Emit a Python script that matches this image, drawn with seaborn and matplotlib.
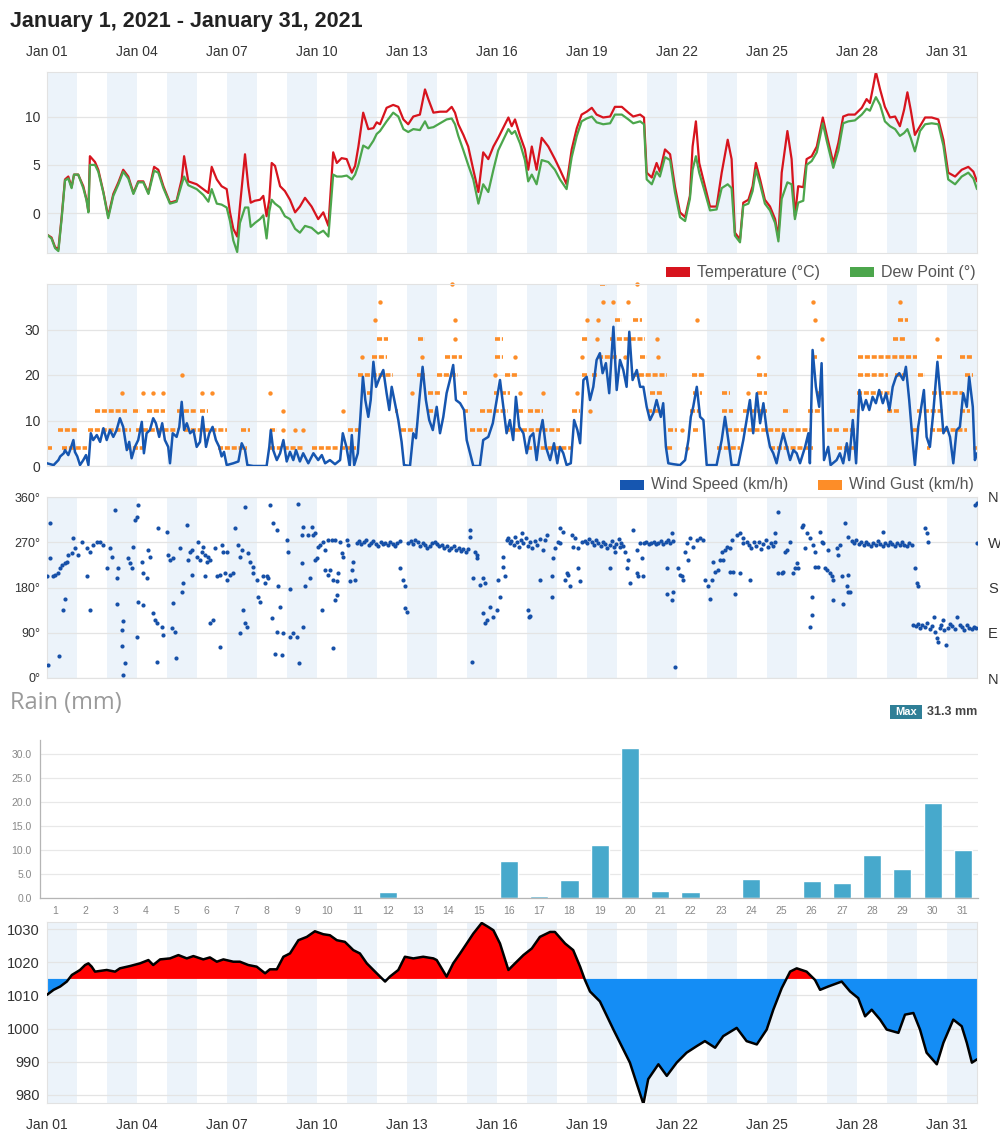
import matplotlib
matplotlib.use("Agg")
import matplotlib.pyplot as plt
from matplotlib.patches import Rectangle
import seaborn as sns

# ---- data (day = days since Jan 1 00:00) ----
# (day, temperature degC, dew point degC)
temp_pts = [
    (0.00, -2.2, -2.2), (0.15, -2.5, -2.6), (0.27, -3.5, -3.6), (0.38, -3.7, -3.9), (0.49, -0.3, -0.5),
    (0.60, 3.5, 3.4), (0.71, 3.8, 3.6), (0.82, 2.7, 2.6), (0.90, 4.0, 4.0), (1.04, 4.0, 4.0),
    (1.21, 2.8, 2.6), (1.32, 1.4, 1.3), (1.38, 0.2, 0.1), (1.43, 5.9, 5.0), (1.60, 5.3, 5.0),
    (1.71, 4.5, 4.3), (1.88, 2.2, 2.1), (2.04, -0.3, -0.5), (2.21, 2.0, 1.8), (2.38, 3.2, 3.0),
    (2.54, 4.5, 4.3), (2.71, 3.8, 3.6), (2.88, 2.1, 2.0), (3.04, 3.3, 3.2), (3.21, 3.3, 3.2),
    (3.38, 2.1, 2.0), (3.57, 4.8, 4.4), (3.71, 4.5, 4.2), (3.88, 2.8, 2.6), (4.10, 1.1, 1.0),
    (4.32, 1.3, 1.2), (4.49, 3.5, 3.0), (4.57, 5.9, 3.8), (4.71, 3.3, 2.9), (4.99, 3.0, 2.5),
    (5.21, 2.5, 1.9), (5.38, 2.1, 1.2), (5.49, 4.8, 2.5), (5.66, 3.5, 1.0), (5.82, 2.8, 0.9),
    (5.99, 2.5, 0.6), (6.10, 0.1, -0.8), (6.21, -1.6, -2.8), (6.34, -2.4, -4.0), (6.43, 0.7, -1.0),
    (6.60, 6.1, 0.6), (6.71, 2.8, 0.6), (6.79, 1.1, -1.4), (6.93, 1.3, -1.0), (7.10, 1.4, -0.6),
    (7.21, 1.8, -0.2), (7.32, -0.3, -2.6), (7.41, 1.4, 0.2), (7.49, 5.2, 1.4), (7.60, 4.9, 1.0),
    (7.77, 2.8, 0.6), (7.93, 2.3, -0.3), (8.10, 1.4, -0.6), (8.27, 0.1, -1.6), (8.43, 0.7, -2.0),
    (8.60, 1.6, -1.3), (8.82, 0.7, -1.5), (9.04, -0.6, -2.1), (9.21, 0.1, -1.8), (9.38, -1.3, -2.4),
    (9.54, 6.3, 4.0), (9.66, 5.2, 3.8), (9.82, 5.7, 3.8), (9.99, 5.6, 3.9), (10.16, 4.2, 3.5),
    (10.27, 4.9, 4.0), (10.38, 6.9, 5.0), (10.54, 10.4, 7.0), (10.71, 8.7, 6.7), (10.88, 8.8, 7.5),
    (10.99, 9.4, 8.2), (11.10, 9.2, 8.5), (11.32, 10.9, 9.5), (11.54, 11.2, 10.4), (11.71, 11.0, 10.0),
    (11.88, 9.7, 8.7), (12.04, 9.2, 8.4), (12.21, 10.0, 8.7), (12.43, 10.2, 8.6), (12.60, 12.8, 9.5),
    (12.71, 11.8, 8.8), (12.88, 10.4, 8.9), (13.10, 10.5, 9.3), (13.32, 10.5, 9.7), (13.49, 11.0, 9.8),
    (13.60, 10.4, 9.2), (13.71, 9.2, 8.0), (13.88, 8.1, 6.5), (14.04, 6.9, 5.0), (14.21, 4.5, 3.5),
    (14.38, 2.2, 1.0), (14.54, 6.3, 3.0), (14.71, 5.6, 2.2), (14.88, 6.9, 4.5), (15.04, 7.8, 6.5),
    (15.38, 9.9, 8.7), (15.49, 9.0, 8.2), (15.60, 9.7, 8.5), (15.77, 8.0, 7.2), (15.93, 6.6, 5.5),
    (16.04, 4.5, 3.3), (16.16, 6.9, 4.0), (16.32, 4.5, 3.0), (16.49, 7.8, 5.5), (16.71, 6.9, 5.3),
    (16.93, 5.6, 4.5), (17.10, 4.5, 3.5), (17.32, 3.0, 2.5), (17.49, 6.6, 5.8), (17.66, 8.8, 8.0),
    (17.82, 10.2, 9.5), (17.99, 10.5, 9.8), (18.16, 10.9, 10.0), (18.32, 10.2, 9.4), (18.54, 9.9, 9.2),
    (18.77, 10.0, 9.3), (18.93, 11.0, 10.2), (19.16, 11.0, 10.2), (19.38, 10.4, 9.7), (19.54, 10.0, 9.3),
    (19.77, 10.2, 9.5), (19.90, 9.9, 9.2), (19.99, 4.2, 3.5), (20.16, 3.7, 3.0), (20.32, 5.2, 4.3),
    (20.43, 4.3, 3.8), (20.60, 6.6, 5.8), (20.77, 6.1, 5.5), (20.93, 2.8, 2.2), (21.10, 0.1, -0.4),
    (21.27, -0.4, -0.8), (21.43, 1.8, 1.5), (21.52, 6.9, 4.5), (21.63, 9.5, 5.9), (21.74, 5.2, 4.2),
    (21.90, 3.2, 2.5), (22.10, 0.7, 0.3), (22.32, 0.7, 0.4), (22.49, 4.2, 2.6), (22.69, 7.6, 3.0),
    (22.82, 5.6, 2.6), (22.93, -2.0, -2.3), (23.10, -2.7, -3.0), (23.21, 1.1, 0.8), (23.38, 1.4, 1.0),
    (23.52, 2.8, 2.3), (23.63, 5.2, 4.5), (23.77, 3.5, 3.0), (23.93, 1.4, 1.0), (24.10, 0.7, 0.3),
    (24.27, -0.6, -1.0), (24.38, -2.5, -2.9), (24.49, 4.2, 1.5), (24.68, 8.5, 3.2), (24.82, 5.6, 3.0),
    (24.93, -0.3, -0.6), (25.04, 2.8, 1.1), (25.21, 2.7, 1.3), (25.32, 5.6, 5.0), (25.49, 5.9, 5.4),
    (25.66, 6.9, 6.3), (25.86, 9.9, 9.3), (25.99, 8.1, 7.5), (26.21, 5.2, 4.7), (26.38, 7.3, 6.5),
    (26.54, 10.0, 9.3), (26.71, 10.2, 9.5), (26.93, 10.2, 9.6), (27.16, 10.9, 10.2), (27.32, 11.8, 10.8),
    (27.43, 11.4, 10.6), (27.54, 13.1, 11.4), (27.63, 14.6, 12.0), (27.77, 12.8, 11.2), (27.93, 11.0, 9.5),
    (28.10, 9.9, 9.0), (28.27, 10.0, 8.7), (28.43, 9.0, 8.0), (28.57, 10.7, 8.3), (28.68, 12.5, 8.7),
    (28.79, 10.7, 7.8), (28.93, 8.1, 6.4), (29.10, 9.0, 8.5), (29.27, 9.9, 9.2), (29.49, 9.9, 9.3),
    (29.71, 9.7, 9.2), (29.88, 7.6, 7.0), (30.04, 4.2, 3.5), (30.27, 3.8, 3.0), (30.49, 4.5, 3.8),
    (30.71, 4.8, 4.2), (30.88, 4.3, 3.6), (31.00, 3.3, 2.5),
]

# (day, wind speed km/h)
wind_pts = [
    (0.00, 0.6), (0.22, 0.2), (0.38, 1.3), (0.44, 2.1), (0.56, 2.8), (0.60, 3.5), (0.71, 2.4), (0.77, 3.5),
    (0.88, 5.7), (0.93, 3.1), (1.01, 2.1), (1.10, 0.2), (1.21, 1.3), (1.30, 2.4), (1.38, 0.2), (1.46, 7.2),
    (1.54, 5.7), (1.66, 6.8), (1.77, 5.3), (1.88, 8.3), (1.99, 5.7), (2.10, 7.9), (2.21, 6.4), (2.32, 7.9),
    (2.43, 10.5), (2.54, 8.6), (2.66, 3.5), (2.74, 5.3), (2.82, 1.7), (2.93, 4.2), (3.04, 5.7), (3.16, 9.7),
    (3.23, 2.8), (3.32, 7.2), (3.43, 7.9), (3.54, 10.5), (3.63, 9.4), (3.74, 6.4), (3.84, 9.4), (3.93, 5.7),
    (4.04, 4.2), (4.10, 0.6), (4.19, 7.2), (4.32, 6.4), (4.41, 8.6), (4.49, 14.1), (4.57, 7.9), (4.66, 9.4),
    (4.77, 7.2), (4.88, 7.9), (4.99, 4.2), (5.10, 5.3), (5.19, 10.8), (5.30, 4.2), (5.41, 7.2), (5.52, 8.6),
    (5.63, 5.7), (5.74, 4.2), (5.82, 2.1), (5.90, 3.1), (5.99, 0.2), (6.21, 0.6), (6.38, 1.0), (6.49, 5.0),
    (6.60, 3.5), (6.68, 0.2), (6.88, 0.0), (7.32, 0.0), (7.41, 4.2), (7.46, 7.9), (7.54, 3.5), (7.66, 1.3),
    (7.77, 2.8), (7.88, 5.7), (7.99, 1.0), (8.10, 3.1), (8.21, 1.3), (8.30, 3.5), (8.43, 1.0), (8.54, 2.8),
    (8.71, 0.6), (8.88, 2.8), (9.04, 1.3), (9.16, 2.4), (9.27, 0.6), (9.43, 1.3), (9.60, 0.4), (9.77, 1.3),
    (9.86, 7.2), (9.98, 4.2), (10.09, 0.0), (10.16, 6.8), (10.24, 0.2), (10.36, 2.8), (10.44, 10.1),
    (10.53, 19.6), (10.61, 14.5), (10.71, 10.8), (10.79, 14.5), (10.88, 22.9), (10.97, 17.4), (11.08, 19.3),
    (11.21, 21.1), (11.32, 16.0), (11.41, 12.3), (11.49, 17.4), (11.60, 13.8), (11.71, 10.1), (11.82, 5.3),
    (11.90, 0.2), (12.10, 0.0), (12.21, 7.2), (12.30, 6.1), (12.41, 14.5), (12.52, 21.8), (12.63, 14.5),
    (12.74, 10.1), (12.86, 7.9), (12.99, 13.0), (13.10, 7.2), (13.21, 10.8), (13.32, 16.0), (13.43, 18.9),
    (13.54, 22.2), (13.63, 14.5), (13.77, 13.8), (13.90, 12.3), (13.99, 5.7), (14.10, 2.8), (14.21, 0.0),
    (14.43, 0.0), (14.54, 5.7), (14.71, 6.4), (14.86, 9.4), (14.99, 14.5), (15.10, 18.9), (15.21, 13.0),
    (15.32, 7.2), (15.43, 10.1), (15.54, 5.7), (15.63, 15.2), (15.74, 8.6), (15.88, 7.2), (15.99, 2.8),
    (16.10, 6.4), (16.21, 7.2), (16.32, 1.3), (16.43, 7.2), (16.52, 10.1), (16.63, 4.2), (16.77, 1.3),
    (16.90, 5.0), (17.01, 0.6), (17.10, 4.2), (17.21, 2.8), (17.32, 0.2), (17.46, 0.6), (17.57, 10.1),
    (17.68, 7.9), (17.77, 5.0), (17.88, 18.9), (17.99, 19.6), (18.10, 14.5), (18.21, 17.4), (18.32, 23.3),
    (18.43, 24.8), (18.52, 20.4), (18.63, 22.6), (18.74, 16.0), (18.88, 30.6), (18.99, 16.7), (19.10, 23.3),
    (19.21, 21.1), (19.32, 17.4), (19.41, 29.5), (19.52, 18.9), (19.66, 21.1), (19.77, 17.4), (19.88, 17.4),
    (19.99, 13.0), (20.10, 10.1), (20.21, 11.6), (20.32, 14.5), (20.46, 10.8), (20.54, 13.8), (20.63, 4.2),
    (20.71, 0.6), (20.88, 0.4), (21.10, 0.2), (21.27, 1.3), (21.38, 5.7), (21.46, 10.8), (21.54, 13.0),
    (21.66, 17.4), (21.77, 10.8), (21.88, 10.1), (21.99, 0.2), (22.32, 0.2), (22.49, 5.7), (22.60, 10.8),
    (22.71, 5.7), (22.82, 0.2), (23.04, 0.2), (23.21, 5.7), (23.32, 10.1), (23.43, 14.5), (23.54, 7.2),
    (23.66, 16.0), (23.77, 9.4), (23.88, 13.8), (23.99, 7.9), (24.10, 4.2), (24.21, 2.8), (24.32, 0.6),
    (24.43, 4.2), (24.54, 7.2), (24.66, 4.2), (24.77, 1.3), (24.88, 3.5), (24.99, 2.8), (25.10, 0.6),
    (25.27, 4.2), (25.38, 7.2), (25.43, 0.6), (25.52, 25.5), (25.63, 17.4), (25.74, 13.0), (25.82, 22.6),
    (25.90, 1.3), (26.04, 4.2), (26.12, 0.2), (26.32, 1.3), (26.43, 2.8), (26.54, 0.6), (26.66, 5.0),
    (26.74, 1.3), (26.86, 10.1), (26.97, 0.6), (27.08, 16.7), (27.19, 12.3), (27.30, 14.5), (27.41, 12.3),
    (27.52, 15.2), (27.63, 13.8), (27.74, 16.7), (27.86, 13.8), (27.97, 16.0), (28.08, 12.3), (28.19, 17.4),
    (28.30, 19.6), (28.41, 20.4), (28.54, 18.9), (28.63, 21.8), (28.74, 14.5), (28.86, 5.0), (28.93, 0.2),
    (29.04, 8.6), (29.16, 13.8), (29.23, 16.7), (29.32, 6.4), (29.43, 4.2), (29.54, 11.6), (29.68, 22.9),
    (29.79, 14.5), (29.88, 7.2), (29.99, 8.6), (30.10, 6.4), (30.21, 0.6), (30.32, 7.9), (30.43, 8.6),
    (30.54, 16.0), (30.66, 13.0), (30.74, 19.6), (30.86, 13.0), (30.93, 1.3), (31.00, 2.8),
]

# wind gust: single readings (day, km/h) and runs of equal readings (start day, end day, km/h)
gust_dots = [
    (2.49, 16), (3.21, 16), (3.54, 16), (3.88, 16), (5.16, 16), (5.49, 16), (7.43, 16), (12.15, 16),
    (15.77, 16), (16.54, 16), (17.66, 16), (23.38, 16),
    (4.49, 20), (14.93, 20),
    (7.88, 8), (8.27, 8), (8.54, 8), (21.16, 8),
    (7.88, 12), (9.88, 12), (18.10, 12),
    (21.32, 4),
    (10.50, 24), (12.49, 24), (15.60, 24), (17.82, 24), (19.27, 24), (20.38, 24), (23.71, 24),
    (13.60, 28), (18.32, 28), (20.32, 28), (25.82, 28), (29.66, 28),
    (10.93, 32), (13.60, 32), (17.99, 32), (18.38, 32), (21.66, 32), (25.60, 32),
    (11.10, 36), (18.54, 36), (18.88, 36), (19.38, 36), (25.54, 36), (28.43, 36),
    (13.49, 40), (19.66, 40),
]
gust_runs = [
    (0.00, 0.15, 4), (0.49, 1.32, 4), (2.62, 3.20, 4), (5.71, 6.66, 4), (7.44, 8.54, 4), (8.82, 9.71, 4),
    (9.77, 10.30, 4), (15.99, 17.54, 4), (20.66, 20.88, 4), (22.32, 23.10, 4), (24.10, 25.54, 4),
    (26.32, 26.93, 4), (29.32, 29.43, 4), (30.88, 31.00, 4),
    (0.38, 0.99, 8), (1.38, 2.80, 8), (2.95, 4.40, 8), (4.55, 5.99, 8), (6.48, 6.76, 8), (7.44, 7.66, 8),
    (10.03, 10.48, 8), (11.80, 12.30, 8), (14.10, 14.66, 8), (15.32, 15.43, 8), (15.60, 17.10, 8),
    (20.71, 20.99, 8), (21.54, 21.77, 8), (22.66, 25.43, 8), (25.99, 26.43, 8), (26.54, 26.99, 8),
    (28.88, 29.10, 8), (29.43, 30.66, 8),
    (1.60, 2.66, 12), (2.88, 3.10, 12), (3.32, 3.93, 12), (4.32, 4.99, 12), (5.10, 5.38, 12),
    (11.60, 11.71, 12), (12.71, 12.93, 12), (13.88, 14.10, 12), (14.43, 15.38, 12), (15.71, 15.93, 12),
    (16.04, 16.54, 12), (17.49, 17.77, 12), (19.99, 20.60, 12), (21.43, 21.77, 12), (22.49, 22.88, 12),
    (23.21, 23.99, 12), (24.54, 24.77, 12), (25.38, 25.77, 12), (26.77, 27.04, 12), (27.99, 28.43, 12),
    (28.99, 29.88, 12), (30.43, 30.77, 12),
    (10.66, 10.88, 16), (11.43, 11.54, 16), (12.71, 13.10, 16), (13.88, 13.99, 16), (14.90, 15.43, 16),
    (20.10, 20.54, 16), (21.54, 21.82, 16), (22.49, 22.77, 16), (23.66, 23.99, 16), (25.71, 25.82, 16),
    (27.00, 28.21, 16), (29.49, 30.54, 16),
    (10.38, 11.54, 20), (12.32, 12.60, 20), (12.99, 13.71, 20), (15.27, 15.66, 20), (17.82, 17.99, 20),
    (18.16, 18.32, 20), (19.49, 20.66, 20), (21.49, 21.93, 20), (23.66, 23.99, 20), (27.04, 28.04, 20),
    (28.27, 28.66, 20), (29.04, 29.27, 20), (30.60, 30.88, 20),
    (10.82, 11.32, 24), (13.27, 13.82, 24), (14.93, 15.20, 24), (18.38, 18.99, 24), (19.77, 19.99, 24),
    (25.49, 25.66, 24), (27.04, 28.99, 24), (29.66, 29.82, 24), (30.43, 30.82, 24),
    (11.00, 11.38, 28), (12.38, 12.60, 28), (14.93, 15.20, 28), (17.82, 18.04, 28), (18.77, 19.93, 28),
    (28.21, 28.60, 28),
    (18.93, 19.16, 32), (19.54, 19.82, 32), (28.38, 28.71, 32),
    (18.43, 18.66, 40),
]

# (day, wind direction in degrees)
dir_pts = [
    (0.04, 25), (0.10, 308), (0.00, 202), (0.10, 238), (0.21, 202), (0.27, 205), (0.38, 208), (0.41, 44),
    (0.43, 218), (0.49, 225), (0.54, 135), (0.60, 158), (0.60, 228), (0.66, 231), (0.71, 245), (0.82, 248),
    (0.88, 278), (0.93, 258), (1.04, 245), (1.16, 271), (1.32, 202), (1.32, 258), (1.43, 135), (1.43, 251),
    (1.54, 265), (1.66, 271), (1.77, 271), (1.88, 265), (1.99, 218), (2.10, 258), (2.16, 241), (2.27, 334),
    (2.32, 198), (2.38, 218), (2.32, 147), (2.49, 95), (2.49, 64), (2.54, 113), (2.60, 30), (2.54, 6),
    (2.71, 238), (2.77, 228), (2.82, 218), (2.88, 261), (2.93, 314), (2.99, 321), (3.04, 344), (2.99, 82),
    (3.04, 152), (3.16, 231), (3.21, 145), (3.21, 208), (3.32, 198), (3.38, 255), (3.43, 241), (3.54, 129),
    (3.60, 115), (3.66, 109), (3.82, 102), (3.88, 86), (3.66, 32), (3.71, 298), (3.99, 291), (4.04, 245),
    (4.10, 235), (4.21, 238), (4.16, 99), (4.21, 149), (4.27, 92), (4.30, 39), (4.43, 258), (4.49, 172),
    (4.54, 188), (4.66, 304), (4.71, 235), (4.77, 251), (4.82, 205), (4.82, 255), (4.99, 241), (5.04, 271),
    (5.10, 235), (5.16, 251), (5.21, 261), (5.27, 245), (5.32, 231), (5.27, 202), (5.38, 241), (5.43, 235),
    (5.43, 109), (5.54, 115), (5.60, 258), (5.77, 62), (5.66, 202), (5.77, 205), (5.82, 265), (5.88, 251),
    (5.99, 251), (5.93, 208), (5.99, 195), (6.10, 205), (6.21, 208), (6.27, 299), (6.38, 265), (6.43, 241),
    (6.49, 255), (6.43, 89), (6.54, 135), (6.60, 109), (6.66, 102), (6.60, 341), (6.71, 248), (6.77, 231),
    (6.88, 221), (6.88, 208), (6.99, 195), (7.04, 162), (7.10, 152), (7.21, 202), (7.27, 188), (7.32, 202),
    (7.38, 198), (7.43, 344), (7.49, 119), (7.54, 308), (7.60, 47), (7.66, 294), (7.66, 92), (7.71, 182),
    (7.77, 142), (7.82, 45), (7.88, 89), (7.99, 274), (8.04, 251), (8.10, 178), (8.10, 82), (8.21, 89),
    (8.32, 82), (8.38, 346), (8.41, 29), (8.49, 228), (8.49, 284), (8.54, 102), (8.54, 301), (8.60, 182),
    (8.71, 284), (8.77, 198), (8.82, 301), (8.88, 284), (8.93, 288), (8.93, 235), (8.99, 238), (9.04, 261),
    (9.10, 265), (9.16, 135), (9.21, 271), (9.27, 255), (9.27, 215), (9.38, 205), (9.43, 215), (9.54, 195),
    (9.66, 192), (9.38, 274), (9.49, 274), (9.60, 274), (9.54, 59), (9.60, 155), (9.66, 165), (9.71, 208),
    (9.77, 271), (9.82, 248), (9.88, 241), (9.99, 274), (10.04, 265), (10.10, 192), (10.16, 215),
    (10.21, 231), (10.27, 195),
    (10.32, 268), (10.40, 272), (10.48, 266), (10.56, 270), (10.64, 274), (10.72, 265), (10.80, 269),
    (10.88, 272), (10.96, 267), (11.04, 263), (11.12, 270), (11.20, 266), (11.28, 268), (11.36, 264),
    (11.44, 271), (11.52, 267), (11.60, 262), (11.68, 269), (11.75, 273),
    (11.77, 218), (11.88, 195), (11.93, 182), (11.93, 139), (11.99, 132),
    (12.04, 268), (12.12, 272), (12.20, 266), (12.28, 275), (12.36, 270), (12.44, 262), (12.52, 268),
    (12.60, 264), (12.68, 258), (12.76, 262), (12.84, 268), (12.92, 270), (13.00, 266), (13.08, 262),
    (13.16, 265), (13.24, 258), (13.32, 262), (13.40, 255), (13.48, 258), (13.56, 262), (13.64, 254),
    (13.72, 258), (13.80, 252), (13.88, 256), (13.96, 250), (14.04, 256),
    (14.10, 294), (14.10, 281), (14.16, 32), (14.21, 198), (14.27, 251), (14.32, 245), (14.32, 238),
    (14.43, 185), (14.54, 198), (14.60, 188), (14.54, 129), (14.60, 109), (14.66, 115), (14.77, 142),
    (14.88, 122), (14.99, 135), (15.04, 195),
    (15.10, 162), (15.21, 221), (15.27, 202), (15.21, 241), (15.32, 274), (15.38, 278), (15.43, 268),
    (15.48, 272), (15.55, 265), (15.60, 280), (15.66, 270), (15.72, 260), (15.80, 275), (15.88, 268),
    (15.95, 278), (16.02, 262), (16.10, 270), (16.18, 258), (16.26, 272), (16.34, 265), (16.42, 276),
    (15.82, 288), (16.04, 135), (16.05, 122), (16.10, 123),
    (16.43, 195), (16.54, 255), (16.60, 274), (16.66, 284), (16.82, 202), (16.82, 162), (16.88, 238),
    (16.93, 258), (17.04, 271), (17.10, 268), (17.10, 298), (17.21, 291), (17.27, 195), (17.32, 208),
    (17.38, 205), (17.43, 182), (17.49, 284), (17.54, 261), (17.60, 278), (17.71, 218), (17.77, 192),
    (17.71, 258), (17.82, 271),
    (17.93, 272), (18.00, 268), (18.08, 276), (18.15, 270), (18.22, 264), (18.30, 274), (18.38, 268),
    (18.45, 262), (18.52, 270), (18.60, 266), (18.68, 258), (18.75, 264), (18.82, 272), (18.90, 260),
    (18.98, 266), (19.05, 276), (19.12, 268), (19.20, 262),
    (18.77, 218), (18.93, 251), (19.10, 261), (19.27, 251), (19.32, 218), (19.38, 235), (19.43, 188),
    (19.54, 294), (19.66, 255), (19.66, 208), (19.71, 202), (19.82, 238), (19.88, 202), (19.77, 268),
    (19.90, 268), (19.98, 270), (20.06, 266), (20.14, 268), (20.22, 271), (20.30, 267), (20.38, 269),
    (20.46, 272), (20.54, 266), (20.62, 270), (20.70, 275), (20.78, 268), (20.86, 272),
    (20.66, 218), (20.66, 168), (20.82, 155), (20.88, 172), (20.82, 288), (20.93, 21),
    (21.04, 218), (21.10, 205), (21.16, 202), (21.21, 195), (21.27, 251), (21.32, 268), (21.38, 235),
    (21.43, 278), (21.54, 261), (21.66, 274), (21.77, 278), (21.88, 274), (21.93, 195), (22.04, 182),
    (22.10, 158), (22.16, 195), (22.21, 231), (22.27, 211), (22.38, 215), (22.43, 235), (22.49, 251),
    (22.54, 235), (22.60, 255), (22.66, 261), (22.77, 258), (22.82, 274), (22.77, 211), (22.88, 211),
    (22.93, 168), (23.10, 208), (23.00, 284), (23.10, 288), (23.21, 268), (23.21, 278), (23.32, 271),
    (23.43, 195),
    (23.40, 265), (23.48, 258), (23.56, 270), (23.64, 262), (23.72, 271), (23.80, 256), (23.88, 266),
    (23.96, 274), (24.04, 260), (24.12, 268), (24.20, 262), (24.28, 270),
    (24.27, 288), (24.38, 331), (24.38, 208), (24.49, 208), (24.54, 211), (24.60, 251), (24.66, 255),
    (24.77, 271), (24.88, 208), (24.93, 218), (24.99, 228), (25.04, 218), (25.16, 301), (25.21, 304),
    (25.27, 258), (25.32, 288), (25.43, 278), (25.54, 265), (25.49, 162), (25.49, 125), (25.43, 102),
    (25.60, 251), (25.60, 221), (25.71, 221), (25.77, 291), (25.82, 271), (25.88, 268), (25.93, 218),
    (25.99, 215), (26.04, 255), (26.10, 208), (26.16, 202), (26.21, 195), (26.21, 155), (26.32, 258),
    (26.38, 245), (26.43, 264), (26.49, 202), (26.54, 148), (26.60, 308), (26.66, 182), (26.71, 172),
    (26.77, 172), (26.71, 205), (26.71, 281),
    (26.82, 272), (26.90, 268), (26.98, 275), (27.06, 266), (27.14, 270), (27.22, 264), (27.30, 271),
    (27.38, 266), (27.46, 262), (27.54, 269), (27.62, 265), (27.70, 272), (27.78, 266), (27.86, 262),
    (27.94, 268), (28.02, 264), (28.10, 270), (28.18, 266), (28.26, 262), (28.34, 268), (28.42, 264),
    (28.50, 270), (28.58, 265), (28.66, 262), (28.74, 268), (28.82, 264), (27.88, 291),
    (28.93, 218), (28.99, 188), (29.04, 182), (29.27, 298), (29.32, 288), (29.38, 271),
    (28.88, 105), (28.95, 104), (29.02, 108), (29.10, 100), (29.18, 106), (29.26, 102), (29.34, 109),
    (29.42, 98), (29.50, 104), (29.56, 122), (29.60, 92), (29.65, 80), (29.70, 72), (29.75, 100),
    (29.80, 106), (29.86, 115), (29.90, 95), (29.96, 66), (30.02, 100), (30.10, 108), (30.18, 104),
    (30.26, 98), (30.34, 122), (30.42, 105), (30.50, 101), (30.58, 96), (30.66, 106), (30.74, 100),
    (30.82, 98), (30.90, 102), (30.98, 99),
    (30.93, 344), (31.00, 348), (31.00, 268),
]

rain_days = list(range(1, 32))
rain_mm = [0.1, 0.3, 0, 0, 0, 0, 0.3, 0.2, 0, 0, 0, 1.3, 0, 0, 0, 7.7, 0.4, 3.8, 11.0, 31.3,
           1.4, 1.2, 0, 3.9, 0, 3.5, 3.2, 9.0, 6.0, 19.8, 10.0]

# (day, sea level pressure hPa)
pres_pts = [
    (0.00, 1010.2), (0.22, 1011.7), (0.44, 1012.7), (0.66, 1014.2), (0.83, 1016.2), (1.10, 1017.7),
    (1.27, 1019.2), (1.38, 1019.7), (1.49, 1018.7), (1.60, 1017.2), (1.99, 1017.7), (2.27, 1017.2),
    (2.43, 1018.2), (2.77, 1018.9), (3.10, 1019.7), (3.38, 1020.7), (3.54, 1019.2), (3.77, 1020.9),
    (4.10, 1021.2), (4.38, 1022.2), (4.66, 1021.2), (4.88, 1021.9), (5.21, 1020.9), (5.43, 1021.5),
    (5.66, 1020.2), (5.88, 1020.9), (6.21, 1020.2), (6.43, 1020.2), (6.71, 1019.2), (6.99, 1018.7),
    (7.27, 1016.7), (7.43, 1017.9), (7.66, 1017.9), (7.88, 1021.7), (8.10, 1022.7), (8.38, 1026.7),
    (8.66, 1027.7), (8.93, 1029.4), (9.21, 1028.5), (9.43, 1028.2), (9.66, 1026.7), (9.93, 1026.2),
    (10.21, 1023.7), (10.43, 1022.7), (10.66, 1019.7), (10.99, 1016.7), (11.27, 1014.2), (11.43, 1015.7),
    (11.71, 1017.7), (11.93, 1021.7), (12.21, 1021.2), (12.54, 1021.7), (12.88, 1021.2), (12.99, 1020.7),
    (13.32, 1015.7), (13.54, 1019.7), (13.77, 1022.7), (13.99, 1025.7), (14.21, 1028.7), (14.49, 1031.9),
    (14.71, 1030.7), (14.88, 1029.7), (15.10, 1025.7), (15.38, 1017.7), (15.60, 1019.7), (15.88, 1022.2),
    (16.16, 1024.2), (16.43, 1027.7), (16.77, 1029.2), (16.93, 1029.2), (17.27, 1025.7), (17.54, 1023.7),
    (17.77, 1018.7), (17.93, 1014.7), (18.10, 1011.2), (18.43, 1008.2), (18.88, 999.7), (19.43, 989.7),
    (19.88, 977.2), (20.04, 984.7), (20.38, 989.2), (20.66, 985.7), (20.99, 989.7), (21.32, 992.7),
    (21.66, 994.7), (21.93, 996.2), (22.27, 994.2), (22.54, 997.7), (22.99, 1000.2), (23.32, 996.2),
    (23.66, 995.2), (23.99, 999.7), (24.21, 1005.7), (24.49, 1012.2), (24.77, 1017.2), (24.99, 1018.2),
    (25.32, 1017.2), (25.60, 1014.7), (25.77, 1011.7), (26.04, 1012.7), (26.49, 1014.2), (26.77, 1011.2),
    (27.04, 1009.2), (27.27, 1003.7), (27.49, 1005.7), (27.77, 1002.7), (27.99, 999.7), (28.38, 998.7),
    (28.60, 1004.2), (28.88, 1004.7), (29.10, 999.7), (29.32, 992.7), (29.66, 989.2), (29.88, 995.7),
    (30.21, 1002.7), (30.49, 1000.7), (30.66, 995.7), (30.83, 989.7), (31.00, 990.7),
]
pres_base = 1015

tick_days = [0, 3, 6, 9, 12, 15, 18, 21, 24, 27, 30]
tick_labels = ["Jan 01", "Jan 04", "Jan 07", "Jan 10", "Jan 13", "Jan 16",
               "Jan 19", "Jan 22", "Jan 25", "Jan 28", "Jan 31"]

SHADE = "#ecf3fa"
GRID = "#e4e4e4"
TXT = "#333333"

sns.set_theme(style="white")
plt.rcParams["font.family"] = ["Liberation Sans", "DejaVu Sans"]

W, H = 1000, 1145
fig = plt.figure(figsize=(W / 100, H / 100), dpi=100)


def box(x0, y0, x1, y1):
    # pixel box (top-left origin) -> figure rect
    return [x0 / W, 1 - y1 / H, (x1 - x0) / W, (y1 - y0) / H]


def time_axis(ax, ylim, yticks, ylabels):
    ax.set_xlim(0, 31)
    ax.set_ylim(*ylim)
    for d in range(0, 31, 2):
        ax.axvspan(d, d + 1, color=SHADE, lw=0, zorder=0)
    ax.set_yticks(yticks)
    ax.set_yticklabels(ylabels)
    ax.grid(axis="y", color=GRID, lw=0.9)
    ax.set_axisbelow(True)
    ax.set_xticks(tick_days)
    ax.set_xticklabels([])
    ax.set_xlabel("")
    ax.set_ylabel("")
    ax.tick_params(length=0, labelsize=10, colors=TXT, pad=5)
    for s in ax.spines.values():
        s.set_color("#e2e2e2")
        s.set_linewidth(0.8)


def legend_item(x, y, color, label):
    fig.add_artist(Rectangle((x / W, 1 - (y + 5) / H), 24 / W, 10 / H,
                             transform=fig.transFigure, color=color, lw=0))
    fig.text((x + 31) / W, 1 - y / H, label, ha="left", va="center", fontsize=11.5, color="#555555")


fig.text(10 / W, 1 - 21 / H, "January 1, 2021 - January 31, 2021", fontsize=15.5,
         fontweight="bold", color="#222222", ha="left", va="center")

# ---- temperature / dew point ----
ax_t = fig.add_axes(box(47, 72, 977, 253))
t_day = [p[0] for p in temp_pts]
sns.lineplot(x=t_day, y=[p[1] for p in temp_pts], ax=ax_t, color="#d7141e", lw=1.6,
             estimator=None, sort=False)
sns.lineplot(x=t_day, y=[p[2] for p in temp_pts], ax=ax_t, color="#4ca64c", lw=1.6,
             estimator=None, sort=False)
time_axis(ax_t, (-4.1, 14.6), [0, 5, 10], ["0", "5", "10"])
ax_t.xaxis.tick_top()
ax_t.set_xticklabels(tick_labels)
ax_t.tick_params(axis="x", pad=9)
legend_item(666, 272, "#d7141e", "Temperature (°C)")
legend_item(850, 272, "#4ca64c", "Dew Point (°)")

# ---- wind speed / gust ----
ax_w = fig.add_axes(box(47, 284, 977, 466))
ax_w.hlines([r[2] for r in gust_runs], [r[0] for r in gust_runs], [r[1] for r in gust_runs],
            colors="#fd8d28", lw=2.6, linestyles=(0, (1.4, 0.5)), zorder=2)
sns.scatterplot(x=[g[0] for g in gust_dots], y=[g[1] for g in gust_dots], ax=ax_w,
                color="#fd8d28", s=10, linewidth=0, zorder=2, clip_on=False)
sns.lineplot(x=[p[0] for p in wind_pts], y=[p[1] for p in wind_pts], ax=ax_w,
             color="#1656b0", lw=1.8, estimator=None, sort=False, zorder=3)
time_axis(ax_w, (0, 40), [0, 10, 20, 30], ["0", "10", "20", "30"])
legend_item(620, 485, "#1656b0", "Wind Speed (km/h)")
legend_item(818, 485, "#fd8d28", "Wind Gust (km/h)")

# ---- wind direction ----
ax_d = fig.add_axes(box(47, 497, 977, 678))
sns.scatterplot(x=[p[0] for p in dir_pts], y=[p[1] for p in dir_pts], ax=ax_d,
                color="#1650a8", s=9, linewidth=0, zorder=3)
time_axis(ax_d, (0, 360), [0, 90, 180, 270, 360], ["0°", "90°", "180°", "270°", "360°"])
ax_d.tick_params(axis="y", labelsize=9)
ax_d2 = ax_d.twinx()
ax_d2.set_ylim(0, 360)
ax_d2.set_yticks([0, 90, 180, 270, 360])
ax_d2.set_yticklabels(["N", "E", "S", "W", "N"])
ax_d2.tick_params(length=0, labelsize=10.5, colors=TXT, pad=8)
for s in ax_d2.spines.values():
    s.set_visible(False)

# ---- rain ----
fig.text(10 / W, 1 - 703 / H, "Rain (mm)", fontsize=17, color="#9a9a9a",
         family=["Open Sans", "DejaVu Sans"], ha="left", va="center")
fig.add_artist(Rectangle((890 / W, 1 - 719 / H), 32 / W, 14 / H, transform=fig.transFigure,
                         color="#2f7f97", lw=0))
fig.text(906 / W, 1 - 712 / H, "Max", fontsize=8, color="white", fontweight="bold",
         ha="center", va="center")
fig.text(927 / W, 1 - 712 / H, "31.3 mm", fontsize=9, color="#444444", fontweight="bold",
         ha="left", va="center")

ax_r = fig.add_axes(box(40, 740, 978, 898))
sns.barplot(x=rain_days, y=rain_mm, ax=ax_r, color="#47a9cc", saturation=1, width=0.6, zorder=2)
ax_r.set_xlim(-0.5, 30.5)
ax_r.set_ylim(0, 33)
ax_r.set_yticks([0, 5, 10, 15, 20, 25, 30])
ax_r.set_yticklabels(["0.0", "5.0", "10.0", "15.0", "20.0", "25.0", "30.0"])
ax_r.grid(axis="y", color="#e8e8e8", lw=0.9)
ax_r.set_axisbelow(True)
ax_r.set_xlabel("")
ax_r.set_ylabel("")
ax_r.tick_params(labelsize=7.5, colors="#888888", length=3, width=0.7, pad=3)
for side in ["top", "right"]:
    ax_r.spines[side].set_visible(False)
for side in ["left", "bottom"]:
    ax_r.spines[side].set_color("#b5b5b5")
    ax_r.spines[side].set_linewidth(0.9)

# ---- pressure ----
ax_p = fig.add_axes(box(47, 922, 977, 1103))
p_day = [p[0] for p in pres_pts]
p_val = [p[1] for p in pres_pts]
ax_p.fill_between(p_day, p_val, pres_base, where=[v >= pres_base for v in p_val],
                  interpolate=True, color="#ff0000", lw=0, zorder=2)
ax_p.fill_between(p_day, p_val, pres_base, where=[v <= pres_base for v in p_val],
                  interpolate=True, color="#148df5", lw=0, zorder=2)
sns.lineplot(x=p_day, y=p_val, ax=ax_p, color="black", lw=1.8, estimator=None, sort=False, zorder=3)
time_axis(ax_p, (977.5, 1032.2), [980, 990, 1000, 1010, 1020, 1030],
          ["980", "990", "1000", "1010", "1020", "1030"])
ax_p.set_xticklabels(tick_labels)
ax_p.tick_params(axis="x", pad=11)
ax_p.tick_params(axis="y", labelsize=10.5)

fig.savefig("out.png", dpi=100)
